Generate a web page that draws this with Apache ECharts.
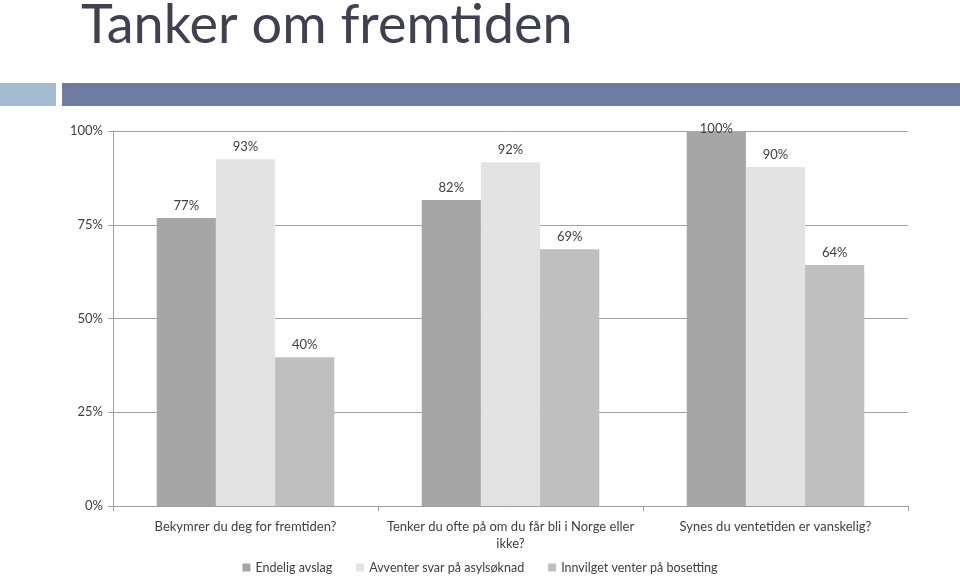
<!DOCTYPE html>
<html><head><meta charset="utf-8">
<script src="https://cdn.jsdelivr.net/npm/echarts@6/dist/echarts.min.js"></script>
<style>html,body{margin:0;padding:0;background:#fff}#c{width:960px;height:576px}</style>
</head><body><div id="c"></div>
<script>
var categories = ['Bekymrer du deg for fremtiden?', 'Tenker du ofte på om du får bli i Norge eller\nikke?', 'Synes du ventetiden er vanskelig?'];
var seriesNames = ['Endelig avslag', 'Avventer svar på asylsøknad', 'Innvilget venter på bosetting'];
var endeligAvslag = [76.8, 81.6, 100];
var avventerSvar = [92.5, 91.7, 90.4];
var innvilget = [39.7, 68.5, 64.3];
var yTicks = [0, 25, 50, 75, 100];
var colors = ['#a6a6a6', '#e3e3e3', '#bfbfbf'];
var font = 'Lato, "Open Sans", sans-serif';

var chart = echarts.init(document.getElementById('c'));
function lbl(v) {
  return {show: true, position: 'top', distance: v >= 100 ? -4 : 6, color: '#404040', fontSize: 13, fontFamily: font,
    formatter: function (p) { return Math.round(p.value) + '%'; }};
}
var values = [endeligAvslag, avventerSvar, innvilget];
chart.setOption({
  animation: false,
  title: {text: 'Tanker om fremtiden', left: 76, top: -6,
    textStyle: {fontFamily: font, fontSize: 54, fontWeight: 'normal', color: '#404050'}},
  graphic: [
    {type: 'rect', shape: {x: 0, y: 83, width: 56, height: 23}, style: {fill: '#a5bbd2'}},
    {type: 'rect', shape: {x: 62, y: 83, width: 898, height: 23}, style: {fill: '#6e7ba2'}}
  ],
  legend: {top: 561, left: 'center', padding: [0, 5], itemWidth: 8, itemHeight: 8, itemGap: 24, icon: 'rect',
    textStyle: {fontFamily: font, fontSize: 12.5, color: '#404040'}},
  grid: {left: 113, right: 52, top: 131, bottom: 70, containLabel: false},
  xAxis: {type: 'category', data: categories,
    axisLine: {lineStyle: {color: '#a0a0a0'}},
    axisTick: {show: true, length: 5, lineStyle: {color: '#a0a0a0'}},
    axisLabel: {fontFamily: font, fontSize: 13, color: '#404040', margin: 12, lineHeight: 17, interval: 0}},
  yAxis: {type: 'value', min: 0, max: 100, interval: 25,
    axisLine: {show: true, lineStyle: {color: '#a0a0a0'}},
    axisTick: {show: true, length: 5, lineStyle: {color: '#a0a0a0'}},
    splitLine: {lineStyle: {color: '#a0a0a0'}},
    axisLabel: {fontFamily: font, fontSize: 13, color: '#404040', margin: 10,
      formatter: function (v) { return v + '%'; }}},
  series: seriesNames.map(function (n, i) {
    return {name: n, type: 'bar', barGap: '0%', barCategoryGap: '33%',
      data: values[i].map(function (v) { return {value: v, label: lbl(v)}; }),
      itemStyle: {color: colors[i]}};
  })
});
</script></body></html>
